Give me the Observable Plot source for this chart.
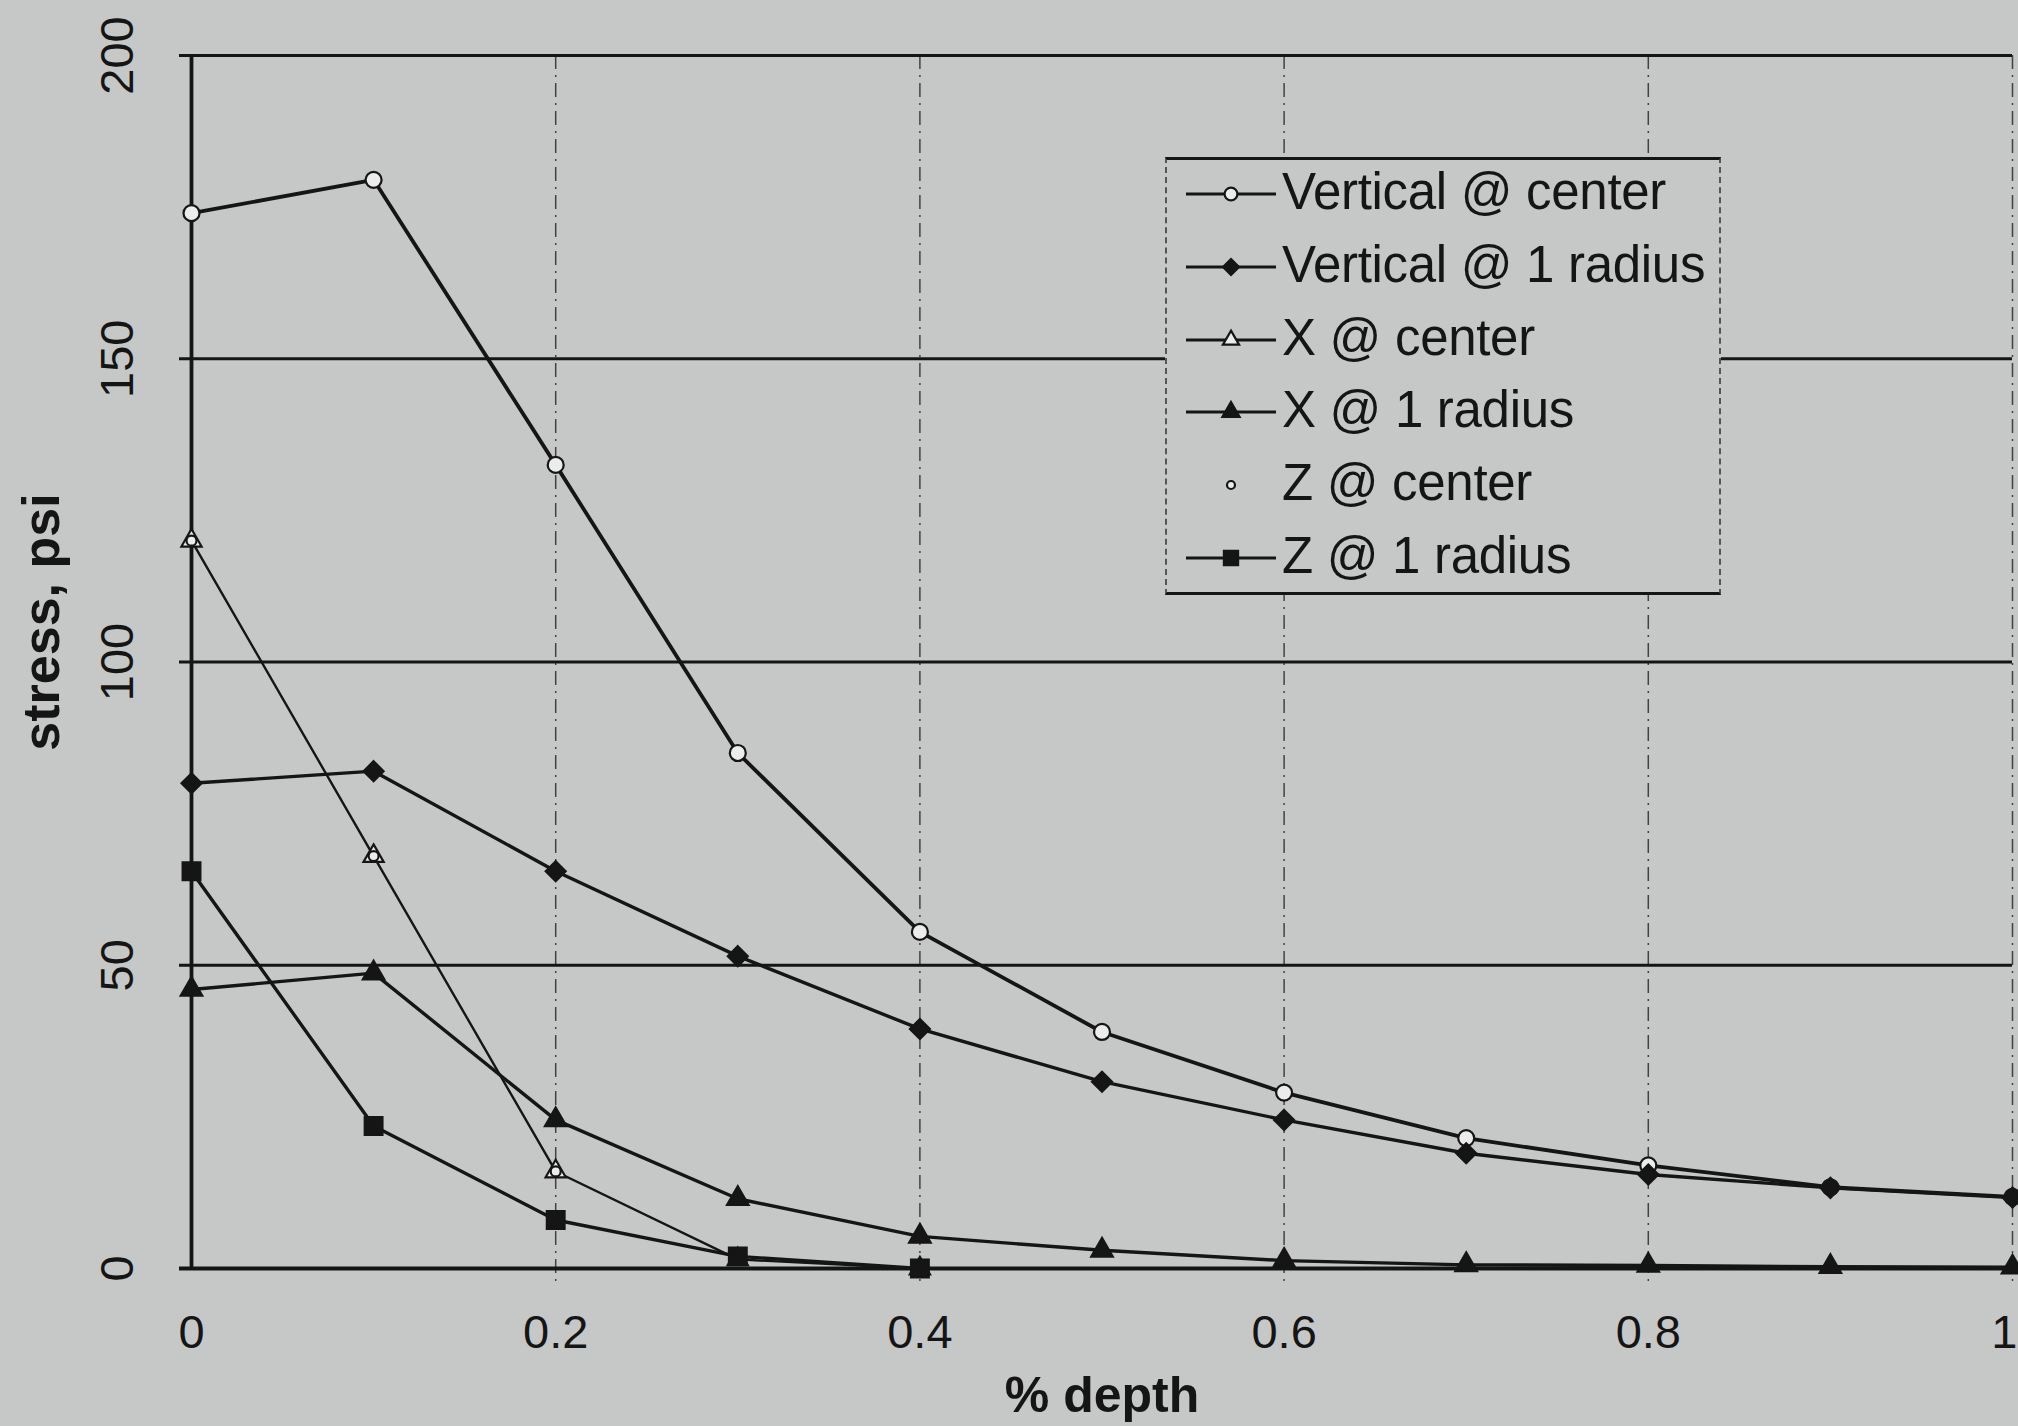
<!DOCTYPE html>
<html>
<head>
<meta charset="utf-8">
<script src="https://cdn.jsdelivr.net/npm/d3@7"></script>
<script src="https://cdn.jsdelivr.net/npm/@observablehq/plot@0.6"></script>
<style>
  html, body { margin: 0; padding: 0; background: #c6c8c7; }
  #wrap { position: relative; width: 2018px; height: 1426px; overflow: hidden;
          font-family: "Liberation Sans", Arial, sans-serif; color: #151515; }
  #legend { position: absolute; left: 1165px; top: 157px; width: 556px; height: 438px;
            background: #c6c8c7; box-sizing: border-box;
            border-top: 3px solid #151515; border-bottom: 3px solid #151515;
            border-left: 2px dashed #555; border-right: 2px dashed #555; }
  .row { position: absolute; left: 0; height: 64px; width: 100%; }
  .row svg { position: absolute; left: 17px; top: 0; }
  .row span { position: absolute; left: 115px; top: 0; line-height: 64px;
              font-size: 51px; letter-spacing: -0.3px; white-space: nowrap; }
</style>
</head>
<body>
<div id="wrap"></div>
<script>
// ---- data ----
const depth = [0, 0.1, 0.2, 0.3, 0.4, 0.5, 0.6, 0.7, 0.8, 0.9, 1.0];
const seriesNames = ["Vertical @ center", "Vertical @ 1 radius", "X @ center", "X @ 1 radius", "Z @ center", "Z @ 1 radius"];
const verticalCenter  = [174, 179.5, 132.5, 85, 55.5, 39, 29, 21.5, 17, 13.4, 11.8];
const vertical1Radius = [80, 82, 65.5, 51.5, 39.5, 30.8, 24.5, 19, 15.5, 13.3, 11.7];
const xCenter         = [120, 68, 16, 1.5, 0];
const x1Radius        = [46, 48.7, 24.5, 11.5, 5.3, 3, 1.3, 0.6, 0.5, 0.3, 0.2];
const zCenter         = [120, 68, 16, 1.5, 0];
const z1Radius        = [65.5, 23.5, 8, 2, 0];
const xTicks = [0, 0.2, 0.4, 0.6, 0.8, 1];
const yTicks = [0, 50, 100, 150, 200];
const xLabel = "% depth";
const yLabel = "stress, psi";

// ---- styling ----
const ink = "#151515";
const bg = "#c6c8c7";
const openFill = "#ececec";
const styles = {
  "Vertical @ center":   {line: true,  width: 3.8, symbol: "circle",   fill: openFill, r: 8},
  "Vertical @ 1 radius": {line: true,  width: 3.4, symbol: "diamond2", fill: ink,      r: 9},
  "X @ center":          {line: true,  width: 2.4, symbol: "triangle", fill: openFill, r: 7.5},
  "X @ 1 radius":        {line: true,  width: 3.4, symbol: "triangle", fill: ink,      r: 8},
  "Z @ center":          {line: false, width: 0,   symbol: "circle",   fill: openFill, r: 5},
  "Z @ 1 radius":        {line: true,  width: 3.4, symbol: "square",   fill: ink,      r: 10}
};
const seriesValues = [verticalCenter, vertical1Radius, xCenter, x1Radius, zCenter, z1Radius];
const series = seriesNames.map((name, i) => ({
  name,
  rows: seriesValues[i].map((v, j) => ({depth: depth[j], stress: v}))
}));

const lineMarks = series.filter(s => styles[s.name].line).map(s =>
  Plot.line(s.rows, {x: "depth", y: "stress", stroke: ink, strokeWidth: styles[s.name].width, strokeLinejoin: "round"}));
const dotMarks = series.map(s =>
  Plot.dot(s.rows, {x: "depth", y: "stress", symbol: styles[s.name].symbol, r: styles[s.name].r,
                    fill: styles[s.name].fill, stroke: ink, strokeWidth: 2.2}));

const chart = Plot.plot({
  width: 2018,
  height: 1426,
  marginLeft: 191,
  marginRight: 6,
  marginTop: 55,
  marginBottom: 158,
  x: {domain: [0, 1], axis: null},
  y: {domain: [0, 200], axis: null},
  style: {background: bg, color: ink, fontFamily: '"Liberation Sans", Arial, sans-serif', overflow: "visible"},
  marks: [
    Plot.ruleX(xTicks.filter(d => d > 0), {x: d => d, stroke: ink, strokeOpacity: 0.75, strokeWidth: 1.5,
                                            strokeDasharray: "14,6,2,6", insetBottom: -14}),
    Plot.ruleY(yTicks, {y: d => d, stroke: ink, strokeWidth: 3, insetLeft: -12}),
    Plot.ruleX([0], {x: d => d, stroke: ink, strokeWidth: 3.8}),
    Plot.ruleY([0], {y: d => d, stroke: ink, strokeWidth: 3.8, insetLeft: -12}),
    Plot.text(yTicks, {y: d => d, text: d => String(d), frameAnchor: "left", dx: -74, rotate: -90,
                       fontSize: 47, textAnchor: "middle", lineAnchor: "middle", fill: ink}),
    Plot.text(xTicks.slice(0, -1), {x: d => d, text: d => String(d), frameAnchor: "bottom", dy: 64,
                       fontSize: 47, textAnchor: "middle", lineAnchor: "middle", fill: ink}),
    Plot.text(xTicks.slice(-1), {x: d => d, text: d => String(d), frameAnchor: "bottom", dy: 64, dx: 5,
                       fontSize: 47, textAnchor: "end", lineAnchor: "middle", fill: ink}),
    Plot.text([xLabel], {text: d => d, frameAnchor: "bottom", dy: 127, fontSize: 50, fontWeight: "bold",
                         textAnchor: "middle", lineAnchor: "middle", fill: ink}),
    Plot.text([yLabel], {text: d => d, frameAnchor: "left", dx: -149, dy: -40, rotate: -90, fontSize: 52,
                         fontWeight: "bold", letterSpacing: "5px",
                         textAnchor: "middle", lineAnchor: "middle", fill: ink}),
    ...lineMarks,
    ...dotMarks
  ]
});

const wrap = document.getElementById("wrap");
wrap.appendChild(chart);

// ---- legend (inside plot area, top right) ----
const symbolTypes = {circle: d3.symbolCircle, diamond2: d3.symbolDiamond2, triangle: d3.symbolTriangle, square: d3.symbolSquare};
const legend = d3.select(wrap).append("div").attr("id", "legend");
seriesNames.forEach((name, i) => {
  const st = styles[name];
  const row = legend.append("div").attr("class", "row").style("top", (0 + i * 72.8) + "px");
  const svg = row.append("svg").attr("width", 96).attr("height", 64);
  if (st.line) svg.append("line").attr("x1", 2).attr("x2", 92).attr("y1", 34).attr("y2", 34)
                  .attr("stroke", ink).attr("stroke-width", 3.2);
  const rr = st.r * 0.8;
  svg.append("path").attr("transform", "translate(47,34)")
     .attr("d", d3.symbol().type(symbolTypes[st.symbol]).size(Math.PI * rr * rr)())
     .attr("fill", st.fill).attr("stroke", ink).attr("stroke-width", 2.2);
  row.append("span").text(name);
});
</script>
</body>
</html>
